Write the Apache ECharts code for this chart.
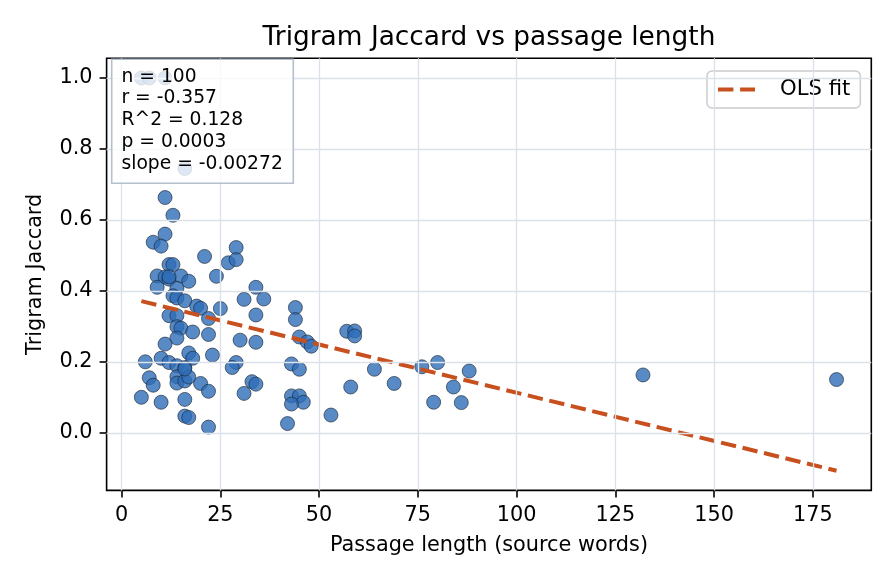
<!DOCTYPE html>
<html>
<head>
<meta charset="utf-8">
<script src="https://cdn.jsdelivr.net/npm/echarts@6/dist/echarts.min.js"></script>
<style>
  html, body { margin: 0; padding: 0; background: #fff; }
  #chart { width: 896px; height: 584px; }
</style>
</head>
<body>
<div id="chart"></div>
<script>
// passage length (source words) vs trigram jaccard
const passageLength = [
    5, 7, 11, 16, 11, 13, 11, 8, 10, 21,
    29, 27, 29, 12, 13, 9, 11, 12, 15, 17,
    24, 9, 14, 34, 13, 14, 16, 31, 36, 19,
    20, 25, 12, 14, 22, 34, 14, 15, 18, 22,
    14, 30, 34, 11, 17, 18, 23, 6, 10, 12,
    14, 16, 29, 28, 7, 8, 14, 14, 16, 17,
    20, 22, 33, 34, 31, 5, 10, 16, 16, 17,
    22, 44, 44, 45, 47, 48, 57, 59, 59, 43,
    45, 64, 69, 76, 80, 88, 84, 58, 43, 45,
    46, 43, 79, 86, 42, 53, 132, 181, 12, 16
];
const trigramJaccard = [
    1.0, 1.0, 1.0, 0.745, 0.663, 0.613, 0.560, 0.537, 0.526, 0.497,
    0.522, 0.479, 0.488, 0.474, 0.474, 0.442, 0.439, 0.433, 0.442, 0.427,
    0.441, 0.410, 0.407, 0.410, 0.386, 0.380, 0.372, 0.376, 0.377, 0.357,
    0.351, 0.350, 0.330, 0.330, 0.322, 0.332, 0.299, 0.295, 0.284, 0.277,
    0.267, 0.261, 0.255, 0.250, 0.225, 0.210, 0.219, 0.200, 0.210, 0.198,
    0.189, 0.184, 0.198, 0.184, 0.155, 0.134, 0.158, 0.140, 0.146, 0.157,
    0.139, 0.117, 0.144, 0.137, 0.111, 0.100, 0.086, 0.094, 0.047, 0.043,
    0.016, 0.353, 0.319, 0.270, 0.256, 0.244, 0.286, 0.287, 0.273, 0.194,
    0.179, 0.179, 0.139, 0.186, 0.198, 0.174, 0.129, 0.129, 0.104, 0.104,
    0.086, 0.081, 0.086, 0.085, 0.026, 0.050, 0.163, 0.150, 0.440, 0.180
];

// OLS fit end points
const fitX = [5, 181];
const fitY = [0.371, -0.107];

const xTicks = [0, 25, 50, 75, 100, 125, 150, 175];
const yTicks = [0, 0.2, 0.4, 0.6, 0.8, 1.0];

const statsLines = ['n = 100', 'r = -0.357', 'R^2 = 0.128', 'p = 0.0003', 'slope = -0.00272'];

const FONT = 'DejaVu Sans';
const gridColor = '#dbe1ea';
const fitColor = '#c8501e';
const fitDash = [15.4, 6.7];

const chart = echarts.init(document.getElementById('chart'), null, { renderer: 'canvas' });

const points = passageLength.map((x, i) => [x, trigramJaccard[i]]);
const fitLine = fitX.map((x, i) => [x, fitY[i]]);

// grid lines as markLines so they sit on the tick values
const gridMarks = xTicks.map(v => ({ xAxis: v })).concat(yTicks.map(v => ({ yAxis: v })));

chart.setOption({
    animation: false,
    backgroundColor: '#ffffff',
    textStyle: { fontFamily: FONT },
    grid: {
        left: 106.6, right: 24.7, top: 58.3, bottom: 93.6,
        show: true, borderColor: '#000', borderWidth: 1.6, backgroundColor: 'transparent'
    },
    xAxis: {
        type: 'value', min: -3.8, max: 189.8,
        axisLine: { show: false, onZero: false },
        axisTick: { show: true, customValues: xTicks, length: 7, lineStyle: { color: '#000', width: 1.6 } },
        axisLabel: { customValues: xTicks, fontSize: 20.8, color: '#000', margin: 15, fontFamily: FONT },
        splitLine: { show: false },
        name: 'Passage length (source words)',
        nameLocation: 'middle', nameGap: 45,
        nameTextStyle: { fontSize: 20.8, color: '#000', fontFamily: FONT }
    },
    yAxis: {
        type: 'value', min: -0.1624, max: 1.0554,
        axisLine: { show: false, onZero: false },
        axisTick: { show: true, customValues: yTicks, length: 7, lineStyle: { color: '#000', width: 1.6 } },
        axisLabel: {
            customValues: yTicks, fontSize: 20.8, color: '#000', margin: 14, fontFamily: FONT,
            formatter: v => v.toFixed(1)
        },
        splitLine: { show: false },
        name: 'Trigram Jaccard',
        nameLocation: 'middle', nameGap: 60,
        nameTextStyle: { fontSize: 20.8, color: '#000', fontFamily: FONT }
    },
    legend: {
        data: ['OLS fit'],
        left: 707, top: 71,
        padding: [8, 10, 8, 9],
        itemWidth: 37, itemHeight: 22,
        backgroundColor: 'rgba(255,255,255,0.8)',
        borderColor: '#cccccc', borderWidth: 1.5, borderRadius: 5,
        itemStyle: { color: 'transparent', borderWidth: 0, opacity: 0 },
        lineStyle: { color: fitColor, width: 4, type: fitDash },
        textStyle: { fontSize: 21.2, color: '#000', fontFamily: FONT, padding: [0, 0, 0, 20] }
    },
    series: [
        {
            name: 'grid',
            type: 'scatter',
            data: [],
            z: 1,
            silent: true,
            markLine: {
                silent: true,
                symbol: 'none',
                label: { show: false },
                lineStyle: { type: 'solid', color: gridColor, width: 1.3 },
                emphasis: { disabled: true },
                data: gridMarks
            }
        },
        {
            name: 'points',
            type: 'scatter',
            data: points,
            z: 3,
            symbolSize: 14,
            itemStyle: { color: '#2e6db8', opacity: 0.8, borderColor: '#1c2633', borderWidth: 0.8 }
        },
        {
            name: 'OLS fit',
            type: 'line',
            data: fitLine,
            z: 4,
            symbol: 'none',
            lineStyle: { color: fitColor, width: 4, type: fitDash },
            itemStyle: { color: fitColor }
        }
    ],
    graphic: [
        {
            type: 'text', z: 10,
            style: {
                x: 489, y: 38, text: 'Trigram Jaccard vs passage length',
                fill: '#000', font: '26.4px "DejaVu Sans"', align: 'center', verticalAlign: 'middle'
            }
        },
        {
            type: 'rect', z: 10,
            shape: { x: 111.7, y: 59.3, width: 181.6, height: 124 },
            style: { fill: 'rgba(255,255,255,0.8)', stroke: '#b4c0cf', lineWidth: 1.6 }
        },
        {
            type: 'text', z: 11,
            style: {
                x: 121.5, y: 66, text: statsLines.join('\n'),
                fill: '#000', font: '18.7px "DejaVu Sans"', lineHeight: 21.7,
                align: 'left', verticalAlign: 'top'
            }
        }
    ]
});
</script>
</body>
</html>
